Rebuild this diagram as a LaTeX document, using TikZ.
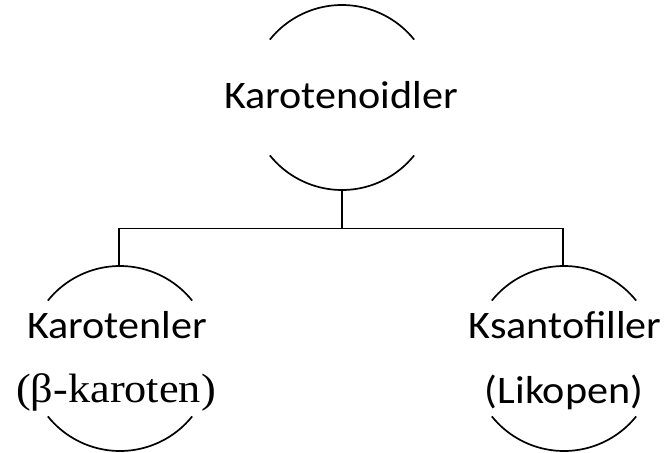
\documentclass[tikz,border=0pt]{standalone}
\usepackage{fontspec}
\setmainfont{Carlito}
\newfontfamily\serifgr{Liberation Serif}
\newcommand{\wide}[1]{\scalebox{1.08}[1]{#1}}
\begin{document}
\begin{tikzpicture}[x=1pt,y=-1pt,
  arcline/.style={line width=1.7pt,line cap=round},
  conn/.style={line width=1.7pt},
  lbl/.style={inner sep=0pt,anchor=base,font=\fontsize{39}{41}\selectfont}]
\useasboundingbox (0,0) rectangle (665,453);
% circle centres
\coordinate (tc) at (342,97.5);
\coordinate (lc) at (120,358.5);
\coordinate (rc) at (564,358.5);
% arcs
\foreach \c in {tc,lc,rc}{
  \draw[arcline] (\c) ++(39:92.5) arc[start angle=39,end angle=141,radius=92.5];
  \draw[arcline] (\c) ++(219:92.5) arc[start angle=219,end angle=321,radius=92.5];
}
% texts
\node[lbl] (top) at (341,108) {\wide{Karotenoidler}};
\node[lbl] (left1) at (117,338) {\wide{Karotenler}};
\node[lbl,font=\serifgr\fontsize{41}{43}\selectfont] (left2) at (116,402) {\wide{(β-karoten)}};
\node[lbl] (right1) at (565,338) {\wide{Ksantofiller}};
\node[lbl] (right2) at (564,403) {\wide{(Likopen)}};
% connectors
\coordinate (tbot) at (342,190);
\coordinate (bus) at (342,228.5);
\coordinate (ltop) at (119,265);
\coordinate (rtop) at (563,265);
\draw[conn] (tbot) -- (bus) -| (ltop);
\draw[conn] (bus) -| (rtop);
\end{tikzpicture}
\end{document}
